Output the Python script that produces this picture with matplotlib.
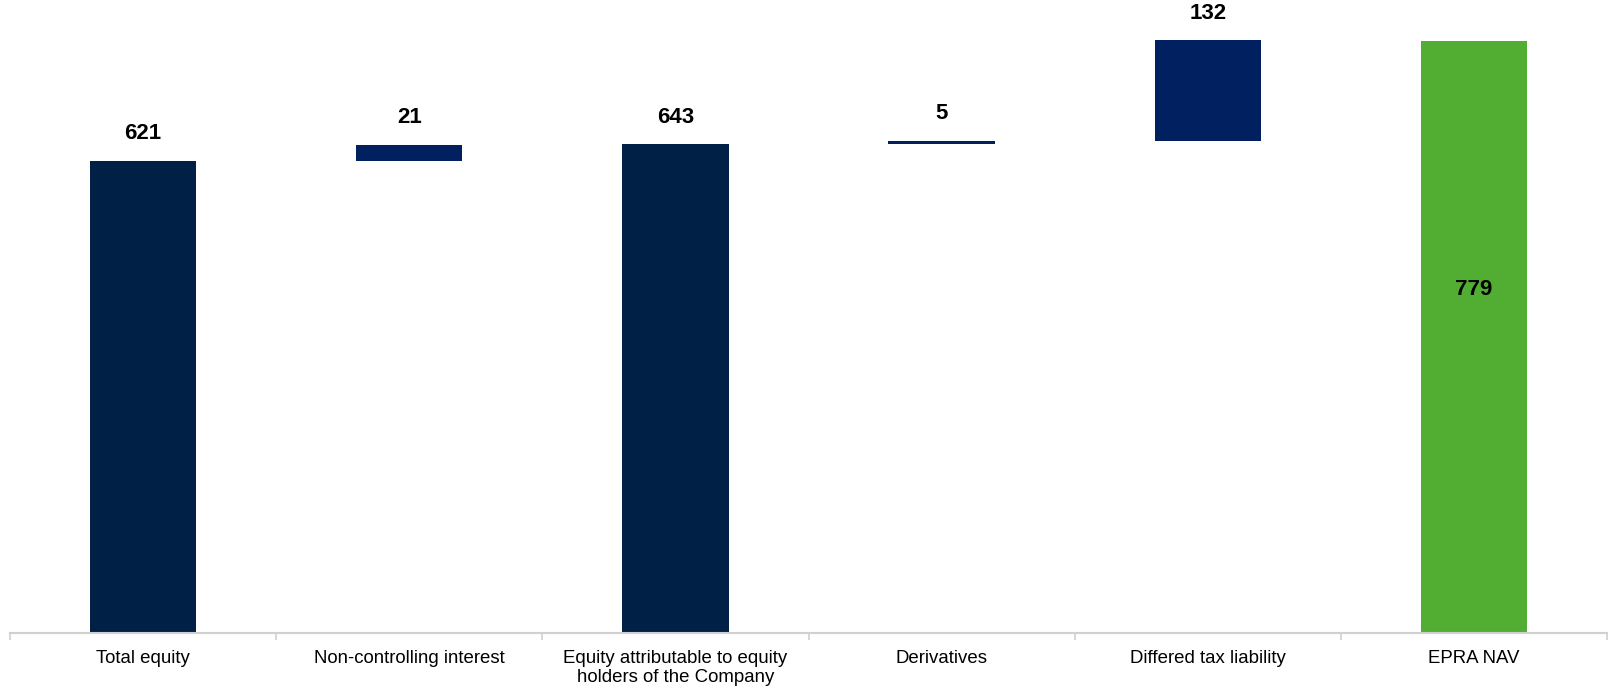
import numpy as np
import matplotlib
matplotlib.use('Agg')
import matplotlib.pyplot as plt

categories = ["Total equity", "Non-controlling interest",
              "Equity attributable to equity\nholders of the Company",
              "Derivatives", "Differed tax liability", "EPRA NAV"]
values = [621, 21, 643, 5, 132, 779]
kinds = ["total", "delta", "total", "delta", "delta", "final"]

colors = {"total": "#002045", "delta": "#00205F", "final": "#52AE32"}

plt.rcParams['font.family'] = ['Liberation Sans', 'DejaVu Sans']

fig = plt.figure(figsize=(16.1, 6.91), dpi=100)
ax = fig.add_axes([10 / 1610, 1 - 633 / 691, 1597 / 1610, 633 / 691 - 0.0])

x = np.arange(len(categories))
running = 0
for i, (v, k) in enumerate(zip(values, kinds)):
    if k == "delta":
        bottom = running
        running += v
    else:
        bottom = 0
        running = v
    ax.bar(x[i], v, bottom=bottom, width=0.4, color=colors[k], zorder=2)
    if k == "final":
        ax.text(x[i], v * 0.58, str(v), ha='center', va='center',
                fontsize=16, fontweight='bold', color='black')
    else:
        ax.annotate(str(v), (x[i], bottom + v), xytext=(0, 12),
                    textcoords='offset points', ha='center', va='bottom',
                    fontsize=16, fontweight='bold', color='black')

ax.set_xlim(-0.5, len(categories) - 0.5)
ax.set_ylim(0, 779 * 633 / 592)
ax.set_yticks([])
for s in ['top', 'right', 'left']:
    ax.spines[s].set_visible(False)
ax.spines['bottom'].set_color('#d0d0d0')
ax.spines['bottom'].set_linewidth(1.5)

ax.set_xticks(x)
ax.set_xticklabels(categories, fontsize=13.4, color='black', linespacing=1.2)
ax.tick_params(axis='x', which='major', length=0, pad=12)
ax.set_xticks(np.arange(-0.5, len(categories)), minor=True)
ax.tick_params(axis='x', which='minor', length=5, width=1.2, color='#d0d0d0')

fig.savefig('out.png', dpi=100)
